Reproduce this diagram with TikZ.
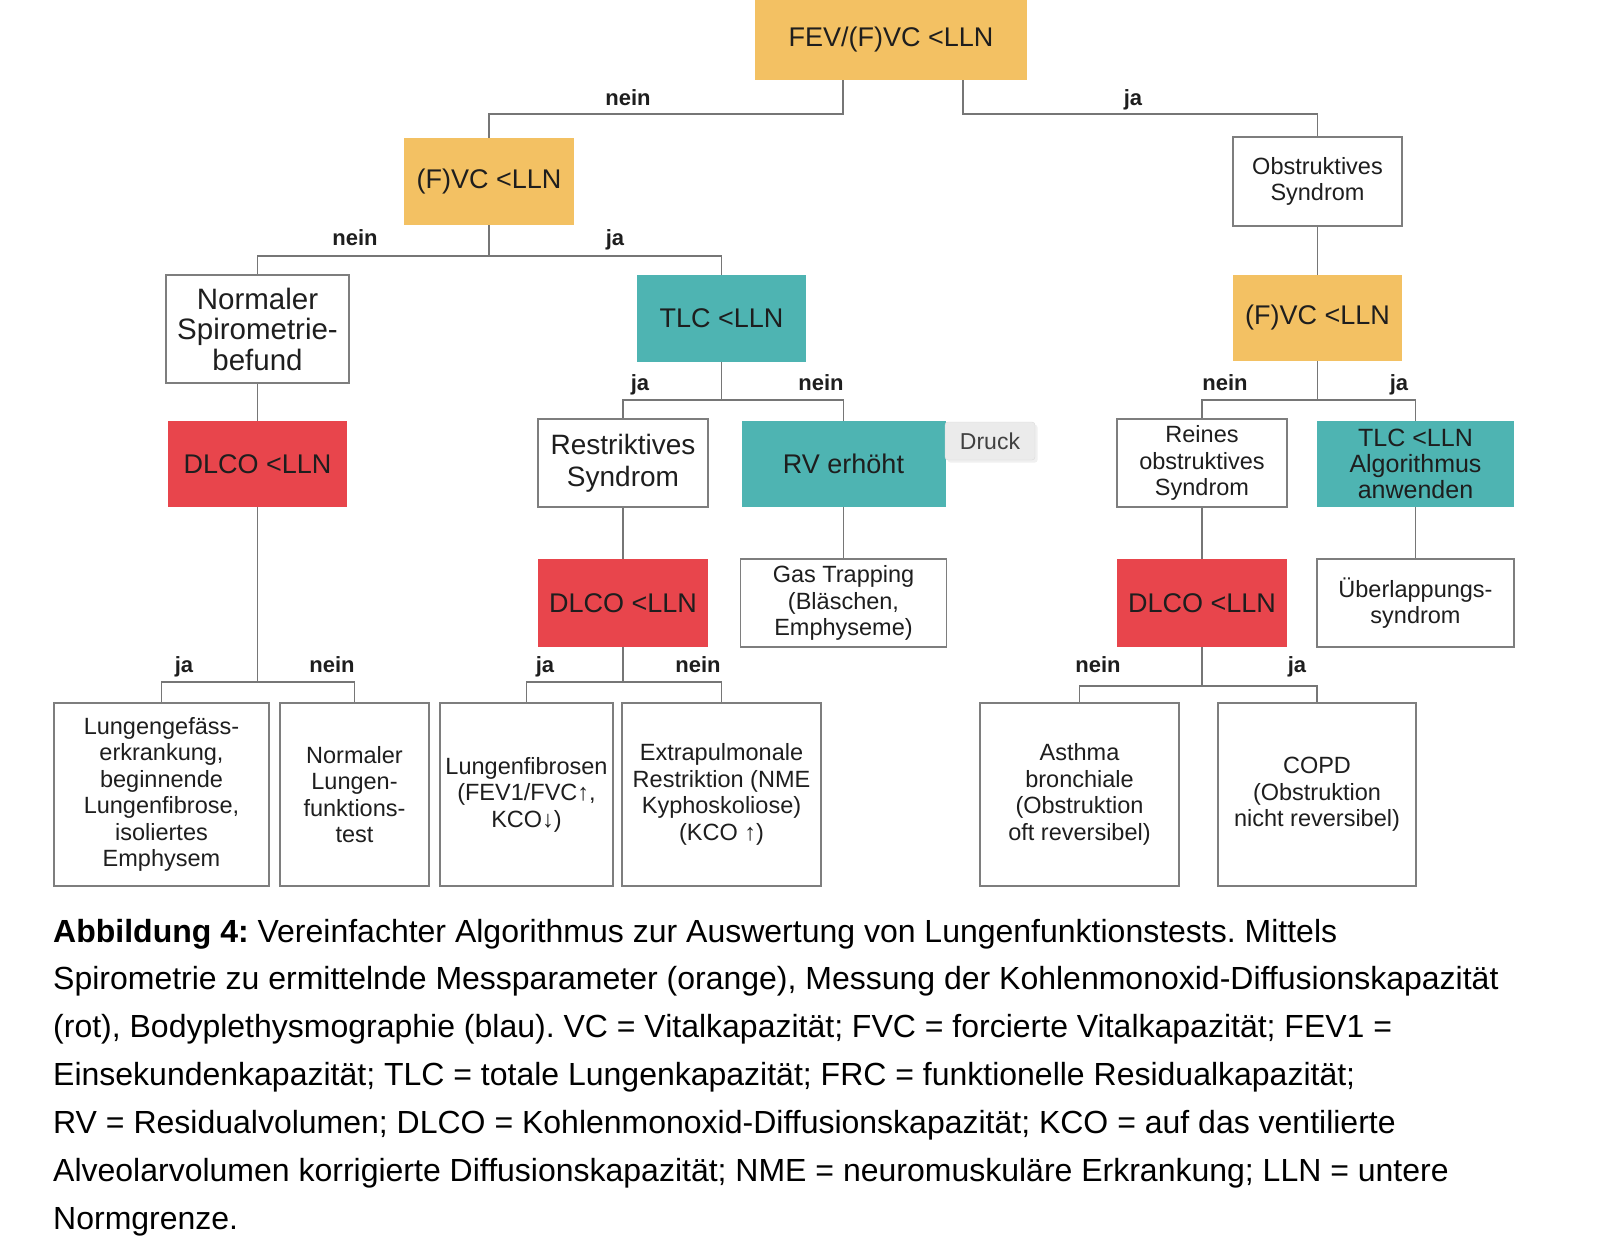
\documentclass[tikz,border=0pt]{standalone}
\usepackage{fontspec}
\setmainfont{Liberation Sans}
\usetikzlibrary{shadows}
\definecolor{spirocol}{HTML}{F3C163}
\definecolor{dlcocol}{HTML}{E8454C}
\definecolor{bodycol}{HTML}{4EB4B2}
\definecolor{framecol}{HTML}{7E7E7E}
\definecolor{linecol}{HTML}{767676}
\definecolor{inkcol}{HTML}{1E1E1E}
\frenchspacing
\begin{document}
\begin{tikzpicture}[x=1pt,y=-1pt,
    every node/.style={text=inkcol},
    plain/.style={draw=framecol,line width=1.5pt,fill=white,inner sep=0pt,align=center},
    spiro/.style={fill=spirocol,inner sep=0pt,align=center},
    dlco/.style={fill=dlcocol,inner sep=0pt,align=center},
    body/.style={fill=bodycol,inner sep=0pt,align=center},
    bigtxt/.style={font=\fontsize{27}{31}\selectfont},
    midtxt/.style={font=\fontsize{28}{32}\selectfont},
    smalltxt/.style={font=\fontsize{23.5}{26.5}\selectfont},
    yesno/.style={font=\bfseries\fontsize{22}{24}\selectfont,anchor=base,inner sep=0pt},
    conn/.style={draw=linecol,line width=1.8pt}
  ]
  \useasboundingbox (0,0) rectangle (1600,1254);
  % first row
  \node[spiro,bigtxt,minimum width=272,minimum height=80] (fev) at (891,40) {FEV/(F)VC <LLN};
  % second row
  \node[spiro,bigtxt,minimum width=170,minimum height=87] (fvcL) at (489,181.5) {(F)VC <LLN};
  \node[plain,smalltxt,minimum width=169,minimum height=89] (obstr) at (1317.5,181.5) {Obstruktives\\Syndrom};
  % third row
  \node[plain,font=\fontsize{29.5}{30.5}\selectfont,minimum width=183,minimum height=108] (normSp) at (257.5,329) {Normaler\\Spirometrie-\\befund};
  \node[body,bigtxt,minimum width=169,minimum height=87] (tlcL) at (721.5,318.5) {TLC <LLN};
  \node[spiro,bigtxt,minimum width=169,minimum height=86] (fvcR) at (1317.5,318) {(F)VC <LLN};
  % fourth row
  \node[dlco,bigtxt,minimum width=179,minimum height=86] (dlcoL) at (257.5,464) {DLCO <LLN};
  \node[plain,midtxt,minimum width=170,minimum height=88] (restr) at (623,463) {Restriktives\\Syndrom};
  \node[body,bigtxt,minimum width=204,minimum height=86] (rv) at (843.5,464) {RV erhöht};
  \node[plain,smalltxt,minimum width=170,minimum height=88] (reines) at (1202,463) {Reines\\obstruktives\\Syndrom};
  \node[body,font=\fontsize{25}{26}\selectfont,minimum width=197,minimum height=86] (tlcR) at (1415.5,464) {TLC <LLN\\Algorithmus\\anwenden};
  % fifth row
  \node[dlco,bigtxt,minimum width=170,minimum height=88] (dlcoM) at (623,603) {DLCO <LLN};
  \node[plain,smalltxt,minimum width=206,minimum height=88] (gas) at (843.5,603) {Gas Trapping\\(Bläschen,\\Emphyseme)};
  \node[dlco,bigtxt,minimum width=170,minimum height=88] (dlcoR) at (1202,603) {DLCO <LLN};
  \node[plain,smalltxt,minimum width=197,minimum height=88] (ueber) at (1415.5,603) {Überlappungs-\\syndrom};
  % bottom row
  \node[plain,smalltxt,minimum width=215,minimum height=183] (lgef) at (161.5,794.5) {Lungengefäss-\\erkrankung,\\beginnende\\Lungenfibrose,\\isoliertes\\Emphysem};
  \node[plain,smalltxt,minimum width=149,minimum height=183] (nlft) at (354.5,794.5) {Normaler\\Lungen-\\funktions-\\test};
  \node[plain,smalltxt,minimum width=173,minimum height=183] (lfib) at (526.5,794.5) {Lungenfibrosen\\(FEV1/FVC↑,\\KCO↓)};
  \node[plain,smalltxt,minimum width=199,minimum height=183] (extra) at (721.5,794.5) {Extrapulmonale\\Restriktion (NME\\Kyphoskoliose)\\(KCO ↑)};
  \node[plain,smalltxt,minimum width=199,minimum height=183] (asth) at (1079.5,794.5) {Asthma\\bronchiale\\(Obstruktion\\oft reversibel)};
  \node[plain,smalltxt,minimum width=198,minimum height=183] (copd) at (1317,794.5) {COPD\\(Obstruktion\\nicht reversibel)};
  % tooltip
  \node[fill=black!8,draw=black!14,rounded corners=3pt,drop shadow={opacity=0.12},
        font=\fontsize{23}{26}\selectfont,text=black!75,minimum width=90,minimum height=38] (druck) at (990,441) {Druck};
  % connectors
  \draw[conn] ([xshift=-48pt]fev.south) -- ++(0,34) -| (fvcL.north);
  \draw[conn] ([xshift=72pt]fev.south) -- ++(0,34) -| (obstr.north);
  \draw[conn] (fvcL.south) -- ++(0,31) -| (normSp.north);
  \draw[conn] (fvcL.south) -- ++(0,31) -| (tlcL.north);
  \draw[conn] (obstr.south) -- (fvcR.north);
  \draw[conn] (normSp.south) -- (dlcoL.north);
  \draw[conn] (tlcL.south) -- ++(0,38) -| (restr.north);
  \draw[conn] (tlcL.south) -- ++(0,38) -| (rv.north);
  \draw[conn] (fvcR.south) -- ++(0,39) -| (reines.north);
  \draw[conn] (fvcR.south) -- ++(0,39) -| (tlcR.north);
  \draw[conn] (restr.south) -- (dlcoM.north);
  \draw[conn] (rv.south) -- (gas.north);
  \draw[conn] (reines.south) -- (dlcoR.north);
  \draw[conn] (tlcR.south) -- (ueber.north);
  \draw[conn] (dlcoL.south) -- ++(0,175) -| (lgef.north);
  \draw[conn] (dlcoL.south) -- ++(0,175) -| (nlft.north);
  \draw[conn] (dlcoM.south) -- ++(0,35) -| (lfib.north);
  \draw[conn] (dlcoM.south) -- ++(0,35) -| (extra.north);
  \draw[conn] (dlcoR.south) -- ++(0,39) -| (asth.north);
  \draw[conn] (dlcoR.south) -- ++(0,39) -| (copd.north);
  % ja / nein
  \node[yesno] (a1) at (628,105) {nein};
  \node[yesno] (a2) at (1133,105) {ja};
  \node[yesno] (b1) at (355,245) {nein};
  \node[yesno] (b2) at (615,245) {ja};
  \node[yesno] (c1) at (640,390) {ja};
  \node[yesno] (c2) at (821,390) {nein};
  \node[yesno] (c3) at (1225,390) {nein};
  \node[yesno] (c4) at (1399,390) {ja};
  \node[yesno] (d1) at (184,672) {ja};
  \node[yesno] (d2) at (332,672) {nein};
  \node[yesno] (d3) at (545,672) {ja};
  \node[yesno] (d4) at (698,672) {nein};
  \node[yesno] (d5) at (1098,672) {nein};
  \node[yesno] (d6) at (1297,672) {ja};
  % caption
  \foreach \txt [count=\i] in {
      {\textbf{Abbildung 4:} Vereinfachter Algorithmus zur Auswertung von Lungenfunktionstests. Mittels},
      {Spirometrie zu ermittelnde Messparameter (orange), Messung der Kohlenmonoxid-Diffusionskapazität},
      {(rot), Bodyplethysmographie (blau). VC = Vitalkapazität; FVC = forcierte Vitalkapazität; FEV1 =},
      {Einsekundenkapazität; TLC = totale Lungenkapazität; FRC = funktionelle Residualkapazität;},
      {RV = Residualvolumen; DLCO = Kohlenmonoxid-Diffusionskapazität; KCO = auf das ventilierte},
      {Alveolarvolumen korrigierte Diffusionskapazität; NME = neuromuskuläre Erkrankung; LLN = untere},
      {Normgrenze.}}
    \node[anchor=base west,inner sep=0pt,text=black,font=\fontsize{32}{36}\selectfont] (cap\i) at (53,{942+(\i-1)*47.9}) {\txt};
\end{tikzpicture}
\end{document}
